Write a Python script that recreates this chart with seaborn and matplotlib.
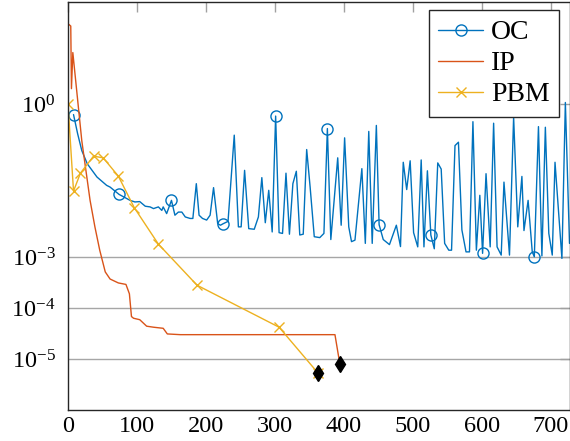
import matplotlib
matplotlib.use('Agg')
import seaborn as sns
from matplotlib import pyplot as plt
from matplotlib.lines import Line2D
from matplotlib.ticker import NullLocator, LogFormatterMathtext

# values
oc_iter = [8, 14, 20, 28, 42, 56, 61, 74, 90, 97, 104, 112, 119, 124, 131, 136, 138, 143,
           150, 155, 160, 165, 170, 177, 181, 186, 190, 195, 201, 206, 211, 217, 221, 225,
           232, 241, 247, 251, 256, 262, 270, 276, 281, 286, 291, 296, 301, 306, 311, 316,
           321, 326, 331, 336, 341, 346, 351, 357, 365, 371, 376, 381, 391, 396, 401, 407,
           411, 416, 426, 431, 436, 441, 447, 451, 457, 466, 476, 482, 486, 491, 496, 501,
           507, 512, 516, 521, 526, 531, 536, 541, 546, 552, 556, 561, 566, 571, 577, 582,
           587, 592, 597, 601, 606, 612, 617, 622, 628, 632, 640, 646, 652, 658, 661, 667,
           673, 676, 682, 687, 692, 697, 702, 706, 716, 721, 727]
oc_value = [0.62, 0.26, 0.122, 0.067, 0.037, 0.0254, 0.0235, 0.0169, 0.0129, 0.0120, 0.0122,
            0.0099, 0.0096, 0.0089, 0.0096, 0.0082, 0.0096, 0.0071, 0.0129, 0.0066, 0.0076,
            0.0076, 0.0061, 0.0057, 0.0057, 0.0274, 0.0066, 0.0057, 0.0053, 0.0066, 0.0229,
            0.0045, 0.0042, 0.0045, 0.0050, 0.245, 0.0039, 0.0039, 0.050, 0.0036, 0.0035,
            0.0061, 0.036, 0.0047, 0.0203, 0.0031, 0.58, 0.0030, 0.0029, 0.044, 0.0028,
            0.0274, 0.048, 0.0027, 0.0028, 0.128, 0.0235, 0.0025, 0.0024, 0.0029, 0.33,
            0.0022, 0.088, 0.0042, 0.217, 0.0039, 0.0020, 0.00214, 0.054, 0.00185, 0.29,
            0.00185, 0.38, 0.0043, 0.0022, 0.00175, 0.0042, 0.0016, 0.072, 0.021, 0.077,
            0.0030, 0.00158, 0.080, 0.00158, 0.049, 0.0027, 0.00145, 0.070, 0.053, 0.00185,
            0.00136, 0.00136, 0.153, 0.178, 0.0034, 0.00126, 0.00126, 0.45, 0.00136, 0.0162,
            0.00118, 0.043, 0.00158, 0.42, 0.00158, 0.00109, 0.0294, 0.00109, 0.55, 0.0039,
            0.038, 0.0033, 0.0129, 0.00126, 0.00101, 0.36, 0.00105, 0.35, 0.0029, 0.00109,
            0.072, 0.00094, 1.07, 0.00185]
oc_marked = [8, 74, 150, 225, 301, 376, 451, 526, 601, 676]

ip_iter = [0, 4, 5, 7, 20, 32, 39, 46, 54, 61, 73, 84, 89, 92, 95, 104, 114, 124, 138, 144,
           163, 192, 387, 394]
ip_value = [37.5, 33.8, 2.0, 10.2, 0.19, 0.0129, 0.0039, 0.00136, 5.1e-4, 3.7e-4, 3.1e-4,
            2.9e-4, 1.9e-4, 6.8e-5, 6.3e-5, 5.9e-5, 4.4e-5, 4.2e-5, 4.0e-5, 3.1e-5, 3.0e-5,
            3.0e-5, 3.0e-5, 8.1e-6]

pbm_iter = [0, 8, 18, 37, 51, 73, 96, 131, 187, 306, 363]
pbm_value = [1.0, 0.0196, 0.044, 0.095, 0.088, 0.0385, 0.0093, 0.00179, 2.8e-4, 4.2e-5, 5.2e-6]

labels = ['OC', 'IP', 'PBM']
colors = ['#0072BD', '#D95319', '#EDB120']
x_ticks = [0, 100, 200, 300, 400, 500, 600, 700]
y_ticks = [1e0, 1e-3, 1e-4, 1e-5]
grid_levels = [1e-3, 1e-4, 1e-5]

sns.set_theme(style='white')
plt.rcParams['font.family'] = ['Liberation Serif', 'DejaVu Serif']
plt.rcParams['mathtext.fontset'] = 'custom'
plt.rcParams['mathtext.rm'] = 'Liberation Serif'
plt.rcParams['text.color'] = 'black'

fig = plt.figure(figsize=(5.7, 4.41), dpi=100)
ax = fig.add_axes([68 / 570, 1 - 410 / 441, 501.5 / 570, 408 / 441])
ax.set_yscale('log')

for v in grid_levels:
    ax.axhline(v, color='#a6a6a6', lw=1.0, zorder=0.5)

sns.lineplot(x=oc_iter, y=oc_value, ax=ax, color=colors[0], lw=1.0, marker='o',
             markevery=[oc_iter.index(v) for v in oc_marked], markersize=8,
             markerfacecolor='none', markeredgecolor=colors[0], markeredgewidth=1.0,
             estimator=None, sort=False)
sns.lineplot(x=ip_iter, y=ip_value, ax=ax, color=colors[1], lw=1.0,
             estimator=None, sort=False)
sns.lineplot(x=pbm_iter, y=pbm_value, ax=ax, color=colors[2], lw=1.0, marker='x',
             markersize=6.5, markeredgecolor=colors[2], markeredgewidth=1.0,
             estimator=None, sort=False)
# black diamonds where PBM and IP stop
ax.plot([pbm_iter[-1], ip_iter[-1]], [pbm_value[-1], ip_value[-1]], ls='none',
        marker='d', markersize=8.5, color='black', zorder=5)

ax.set_xlim(0, 727)
ax.set_ylim(1e-6, 1e2)
ax.set_xticks(x_ticks)
ax.set_xticklabels(['{}'.format(t) for t in x_ticks])
ax.set_yticks(y_ticks)
ax.yaxis.set_major_formatter(LogFormatterMathtext())
ax.yaxis.set_minor_locator(NullLocator())
ax.tick_params(which='major', direction='in', length=7, width=1.0, color='#a0a0a0',
               top=True, right=True, labelsize=17.5, labelcolor='black')
ax.tick_params(axis='x', pad=4)
ax.tick_params(axis='y', pad=9)
for s in ax.spines.values():
    s.set_color('#262626')
    s.set_linewidth(1.0)

handles = [Line2D([], [], color=colors[0], lw=1.0, marker='o', markersize=8,
                  markerfacecolor='none', markeredgecolor=colors[0]),
           Line2D([], [], color=colors[1], lw=1.0),
           Line2D([], [], color=colors[2], lw=1.0, marker='x', markersize=6.5,
                  markeredgecolor=colors[2])]
leg = ax.legend(handles, labels, loc='upper right', bbox_to_anchor=(0.98, 0.98),
                borderaxespad=0, fontsize=20, frameon=True, fancybox=False,
                edgecolor='#262626', framealpha=1, handlelength=1.6, handletextpad=0.3,
                labelspacing=0.2, borderpad=0.35)
leg.get_frame().set_linewidth(1.0)

fig.savefig('out.png', dpi=100)
plt.close()
